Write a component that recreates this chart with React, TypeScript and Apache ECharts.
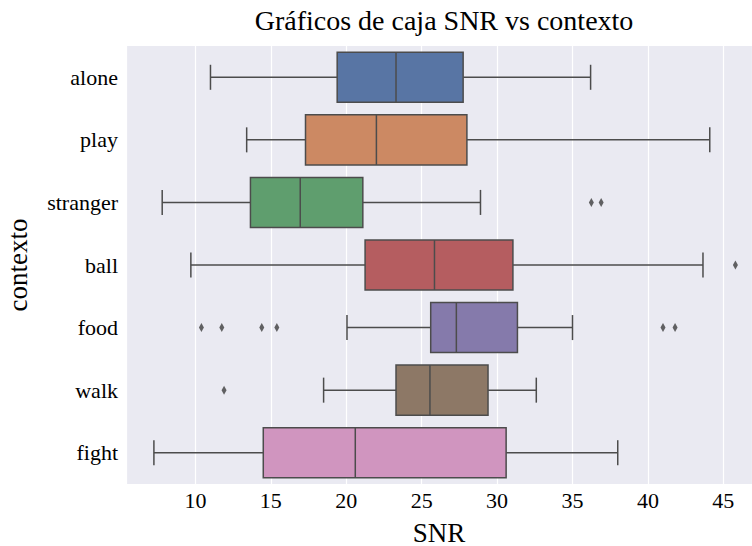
import React, { useEffect, useRef } from "react";
import * as echarts from "echarts";

const categories = ["alone", "play", "stranger", "ball", "food", "walk", "fight"];
// [whiskerLow, q1, median, q3, whiskerHigh]
const boxStats: number[][] = [
  [11.0, 19.4, 23.3, 27.75, 36.2],
  [13.4, 17.3, 22.0, 28.0, 44.1],
  [7.8, 13.65, 16.95, 21.1, 28.9],
  [9.7, 21.25, 25.85, 31.05, 43.65],
  [20.05, 25.6, 27.3, 31.35, 35.0],
  [18.5, 23.3, 25.55, 29.4, 32.6],
  [7.25, 14.5, 20.6, 30.6, 38.0],
];
const outliers: [number, string][] = [
  [36.25, "stranger"],
  [36.9, "stranger"],
  [45.8, "ball"],
  [10.4, "food"],
  [11.75, "food"],
  [14.4, "food"],
  [15.4, "food"],
  [41.0, "food"],
  [41.8, "food"],
  [11.9, "walk"],
];
const colors = ["#5875a4", "#cc8963", "#5f9e6e", "#b55d60", "#857aab", "#8d7866", "#d095bf"];

const FONT = "Liberation Serif";
const EDGE = "#4c4c4c";

export default function App() {
  const ref = useRef<HTMLDivElement>(null);
  useEffect(() => {
    if (!ref.current) return;
    const chart = echarts.init(ref.current, undefined, { renderer: "svg" });
    const boxData = boxStats.map((s, i) => [i, ...s]);
    chart.setOption({
      animation: false,
      title: {
        text: "Gráficos de caja SNR vs contexto",
        left: 439,
        top: 1,
        textAlign: "center",
        textStyle: { fontFamily: FONT, fontSize: 28, fontWeight: "normal", color: "#000" },
      },
      grid: {
        left: 126,
        right: 0,
        top: 46,
        bottom: 62,
        show: true,
        backgroundColor: "#EAEAF2",
        borderWidth: 0,
        containLabel: false,
        outerBoundsMode: "none",
      },
      xAxis: {
        type: "value",
        min: 5.4,
        max: 46.9,
        splitNumber: 8,
        name: "SNR",
        nameLocation: "middle",
        nameGap: 35,
        nameTextStyle: { fontFamily: FONT, fontSize: 27, lineHeight: 27, color: "#000" },
        axisLine: { show: false },
        axisTick: { show: false },
        axisLabel: {
          showMinLabel: false,
          showMaxLabel: false,
          fontFamily: FONT,
          fontSize: 22,
          color: "#000",
          margin: 5,
        },
        splitLine: { show: true, lineStyle: { color: "#ffffff", width: 1.2 } },
      },
      yAxis: {
        type: "category",
        data: categories,
        inverse: true,
        name: "contexto",
        nameLocation: "middle",
        nameGap: 95,
        nameRotate: 90,
        nameTextStyle: { fontFamily: FONT, fontSize: 27, color: "#000" },
        axisLine: { show: false },
        axisTick: { show: false },
        splitLine: { show: false },
        axisLabel: { fontFamily: FONT, fontSize: 22, color: "#000", margin: 8 },
      },
      series: [
        {
          type: "custom",
          encode: { x: [1, 2, 3, 4, 5], y: 0 },
          data: boxData,
          z: 2,
          renderItem: (params: any, api: any) => {
            const ci = api.value(0);
            const band = api.size([0, 1])[1];
            const bw = band * 0.8;
            const cw = bw / 2;
            const pLow = api.coord([api.value(1), ci]);
            const pQ1 = api.coord([api.value(2), ci]);
            const pMed = api.coord([api.value(3), ci]);
            const pQ3 = api.coord([api.value(4), ci]);
            const pHigh = api.coord([api.value(5), ci]);
            const y = pQ1[1];
            const ls = { stroke: EDGE, lineWidth: 1.5, fill: null };
            return {
              type: "group",
              children: [
                { type: "line", shape: { x1: pLow[0], y1: y, x2: pQ1[0], y2: y }, style: ls },
                { type: "line", shape: { x1: pQ3[0], y1: y, x2: pHigh[0], y2: y }, style: ls },
                { type: "line", shape: { x1: pLow[0], y1: y - cw / 2, x2: pLow[0], y2: y + cw / 2 }, style: ls },
                { type: "line", shape: { x1: pHigh[0], y1: y - cw / 2, x2: pHigh[0], y2: y + cw / 2 }, style: ls },
                {
                  type: "rect",
                  shape: { x: pQ1[0], y: y - bw / 2, width: pQ3[0] - pQ1[0], height: bw },
                  style: { fill: colors[ci], stroke: EDGE, lineWidth: 1.5 },
                },
                { type: "line", shape: { x1: pMed[0], y1: y - bw / 2, x2: pMed[0], y2: y + bw / 2 }, style: ls },
              ],
            };
          },
        },
        {
          type: "scatter",
          data: outliers,
          symbol: "diamond",
          symbolSize: [5, 9],
          itemStyle: { color: "#3d3d3d" },
          z: 3,
        },
      ],
    });
    return () => chart.dispose();
  }, []);
  return <div ref={ref} style={{ width: 752, height: 546, position: "absolute", left: 0, top: 0 }} />;
}
